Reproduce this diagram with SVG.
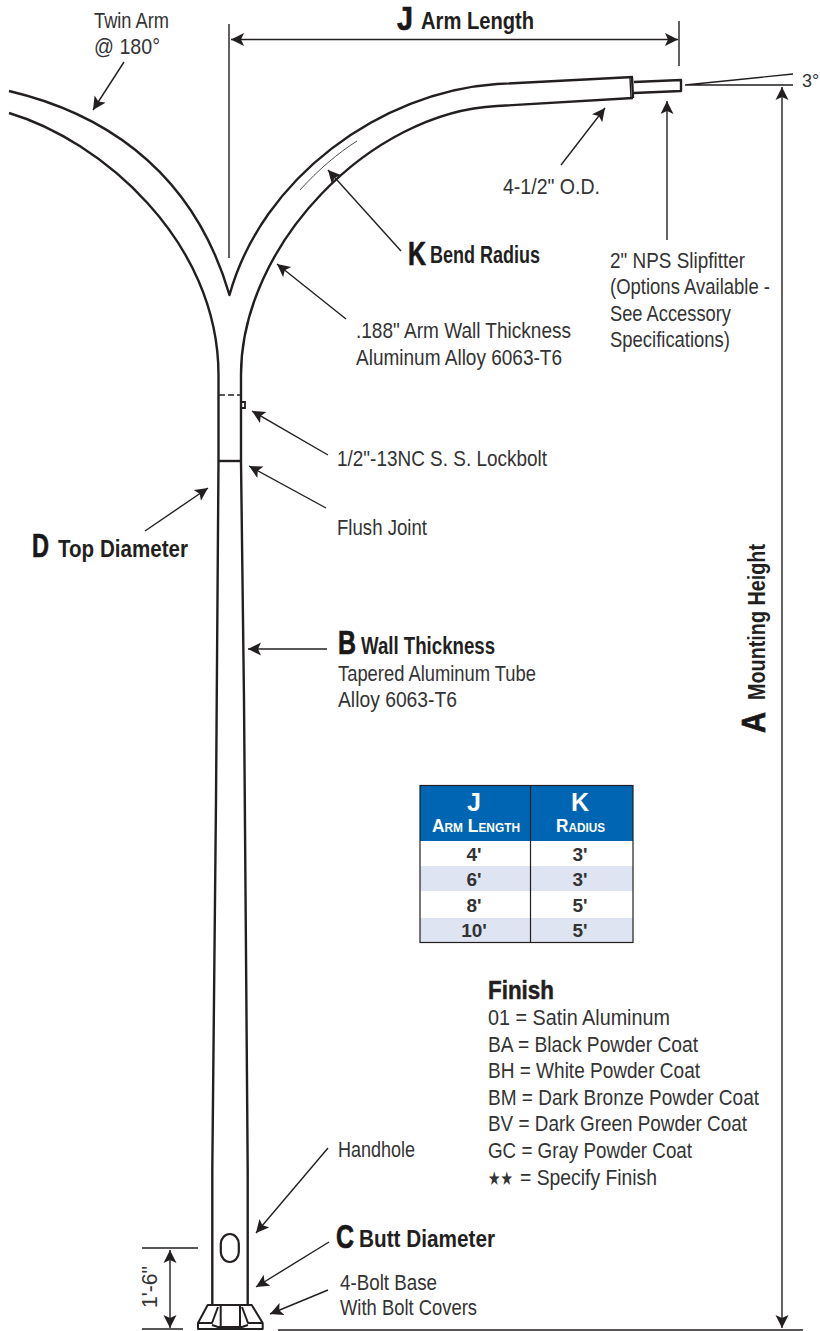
<svg xmlns="http://www.w3.org/2000/svg" width="820" height="1331" viewBox="0 0 820 1331">
<style>
text{font-family:"Liberation Sans",Arial,sans-serif;fill:#333;font-size:22.5px}
.b{font-weight:700;fill:#231f20;font-size:23px}
.big{font-weight:700;fill:#1a1718;font-size:33px;stroke:#1a1718;stroke-width:.7}
.th{font-weight:700;fill:#fff;text-anchor:middle}
.sc{font-variant:small-caps;font-size:19px}
.td{font-weight:700;fill:#333;font-size:19px;text-anchor:middle}
.o{fill:none;stroke:#231f20;stroke-width:2.4;stroke-linejoin:round}
.l{fill:none;stroke:#231f20;stroke-width:1.4}
.a{marker-end:url(#ah)}
.d{marker-start:url(#ahs);marker-end:url(#ah)}
</style>
<defs>
<marker id="ah" markerUnits="userSpaceOnUse" markerWidth="16" markerHeight="14" refX="13" refY="6.5" orient="auto"><path d="M0 0L13 6.5L0 13L3 6.5Z" fill="#231f20"/></marker>
<marker id="ahs" markerUnits="userSpaceOnUse" markerWidth="16" markerHeight="14" refX="0" refY="6.5" orient="auto"><path d="M13 0L0 6.5L13 13L10 6.5Z" fill="#231f20"/></marker>
</defs>
<rect width="820" height="1331" fill="#fff"/>
<g id="pole">
<path class="o" d="M9 91C90 110 190 160 229.5 295C262 178 380 92 497 84L633 77"/>
<path class="o" d="M9 113C100 140 218.5 240 218.5 375L218.5 461L216 800L212.3 1170L212.3 1305"/>
<path class="o" d="M633 98L497 106C370 112 241 245 241 375L241 461L244 700L247.7 1170L247.7 1305"/>
<path class="l" d="M630 78L631 98"/>
<path class="o" d="M633 98L632 77M634 82L681 80L681 91L634 93"/>
<path class="l" d="M219 395H241" stroke-dasharray="6 3"/>
<path class="l" d="M241 402H245V408H241" style="stroke-width:1.8"/>
<path class="o" d="M218.5 461H241"/>
<rect class="o" x="220.8" y="1234" width="18" height="28" rx="9" ry="10" style="stroke-width:2.2"/>
<path class="o" style="stroke-width:2" d="M207.7 1305H251.7L262.7 1323V1329H198V1323ZM198 1323H212L218 1307M262.7 1323H248L242 1307M220.7 1305V1326M240 1305V1326M212 1325L218 1327H242L248 1325"/>
<path d="M300 190C318 170 338 153 357 141" fill="none" stroke="#231f20" stroke-width="0.8"/>
</g>
<g id="connectors">
<path class="l" d="M229 24V258M679 21V66M685 85L793 74M685 85H793M278 1330H803M142 1248H198M142 1329H183"/>
<path class="l a" d="M124 62L93 110"/>
<path class="l d" d="M231 39.5H678"/>
<path class="l a" d="M667 240V101"/>
<path class="l a" d="M561 165L605 108"/>
<path class="l d" d="M782 87V1328"/>
<path class="l a" d="M401 251L328 170"/>
<path class="l a" d="M346 319L277 264"/>
<path class="l a" d="M328 455L252 411"/>
<path class="l a" d="M326 508L249 466"/>
<path class="l a" d="M145 531L208 488"/>
<path class="l a" d="M327 649H248"/>
<path class="l a" d="M328 1148L256 1233"/>
<path class="l a" d="M329 1242L256 1287"/>
<path class="l a" d="M328 1290L270 1314"/>
<path class="l d" d="M170 1250V1328"/>
</g>
<g id="labels">
<text x="94" y="28" textLength="75" lengthAdjust="spacingAndGlyphs">Twin Arm</text>
<text x="94" y="54" textLength="66" lengthAdjust="spacingAndGlyphs">@ 180°</text>
<text class="big" x="397" y="30" textLength="16" lengthAdjust="spacingAndGlyphs">J</text>
<text class="b" x="421" y="29" textLength="113" lengthAdjust="spacingAndGlyphs">Arm Length</text>
<text x="802" y="87" style="font-size:18px">3°</text>
<text x="503" y="194" textLength="97" lengthAdjust="spacingAndGlyphs">4-1/2" O.D.</text>
<text class="big" x="408" y="265" textLength="18" lengthAdjust="spacingAndGlyphs">K</text>
<text class="b" x="430" y="263" textLength="110" lengthAdjust="spacingAndGlyphs">Bend Radius</text>
<text x="610" y="268" textLength="135" lengthAdjust="spacingAndGlyphs">2" NPS Slipfitter</text>
<text x="610" y="294" textLength="160" lengthAdjust="spacingAndGlyphs">(Options Available -</text>
<text x="610" y="321" textLength="121" lengthAdjust="spacingAndGlyphs">See Accessory</text>
<text x="610" y="347" textLength="120" lengthAdjust="spacingAndGlyphs">Specifications)</text>
<text x="356" y="338" textLength="215" lengthAdjust="spacingAndGlyphs">.188" Arm Wall Thickness</text>
<text x="356" y="365" textLength="206" lengthAdjust="spacingAndGlyphs">Aluminum Alloy 6063-T6</text>
<text x="337" y="466" textLength="210" lengthAdjust="spacingAndGlyphs">1/2"-13NC S. S. Lockbolt</text>
<text x="337" y="535" textLength="90" lengthAdjust="spacingAndGlyphs">Flush Joint</text>
<text class="big" x="32" y="557" textLength="17" lengthAdjust="spacingAndGlyphs">D</text>
<text class="b" x="58" y="557" textLength="130" lengthAdjust="spacingAndGlyphs">Top Diameter</text>
<text class="big" x="338" y="654" textLength="18" lengthAdjust="spacingAndGlyphs">B</text>
<text class="b" x="361" y="654" textLength="134" lengthAdjust="spacingAndGlyphs">Wall Thickness</text>
<text x="338" y="681" textLength="198" lengthAdjust="spacingAndGlyphs">Tapered Aluminum Tube</text>
<text x="338" y="707" textLength="119" lengthAdjust="spacingAndGlyphs">Alloy 6063-T6</text>
<text x="338" y="1157" textLength="77" lengthAdjust="spacingAndGlyphs">Handhole</text>
<text class="big" x="336" y="1248" textLength="18" lengthAdjust="spacingAndGlyphs">C</text>
<text class="b" x="359" y="1247" textLength="136" lengthAdjust="spacingAndGlyphs">Butt Diameter</text>
<text x="340" y="1290" textLength="97" lengthAdjust="spacingAndGlyphs">4-Bolt Base</text>
<text x="340" y="1315" textLength="137" lengthAdjust="spacingAndGlyphs">With Bolt Covers</text>
<text class="big" transform="translate(765 733) rotate(-90)" textLength="21" lengthAdjust="spacingAndGlyphs">A</text>
<text class="b" transform="translate(765 700) rotate(-90)" textLength="156" lengthAdjust="spacingAndGlyphs">Mounting Height</text>
<text transform="translate(157 1308) rotate(-90)" textLength="42" lengthAdjust="spacingAndGlyphs">1'-6"</text>
</g>
<g id="spec-table">
<rect x="420" y="785" width="213" height="56" fill="#0066b3"/>
<rect x="420" y="841" width="213" height="25" fill="#fff"/>
<rect x="420" y="866" width="213" height="25" fill="#dfe4f2"/>
<rect x="420" y="891" width="213" height="27" fill="#fff"/>
<rect x="420" y="918" width="213" height="25" fill="#dfe4f2"/>
<rect x="420" y="785.5" width="213" height="157" fill="none" stroke="#231f20" stroke-width="1.2"/>
<path d="M530.5 785V943" stroke="#231f20" stroke-width="1.2"/>
<text class="th" x="474" y="811" style="font-size:25px">J</text>
<text class="th sc" x="476" y="832" textLength="88" lengthAdjust="spacingAndGlyphs">Arm Length</text>
<text class="th" x="580" y="811" style="font-size:25px">K</text>
<text class="th sc" x="580.5" y="832" textLength="49" lengthAdjust="spacingAndGlyphs">Radius</text>
<text class="td" x="474" y="861">4'</text><text class="td" x="580" y="861">3'</text>
<text class="td" x="474" y="886">6'</text><text class="td" x="580" y="886">3'</text>
<text class="td" x="474" y="912">8'</text><text class="td" x="580" y="912">5'</text>
<text class="td" x="474" y="937">10'</text><text class="td" x="580" y="937">5'</text>
</g>
<g id="finish">
<text class="b" x="488" y="999" style="font-size:26px;stroke:#231f20;stroke-width:.5" textLength="66" lengthAdjust="spacingAndGlyphs">Finish</text>
<text x="488" y="1025" textLength="182" lengthAdjust="spacingAndGlyphs">01 = Satin Aluminum</text>
<text x="488" y="1052" textLength="210" lengthAdjust="spacingAndGlyphs">BA = Black Powder Coat</text>
<text x="488" y="1078" textLength="212" lengthAdjust="spacingAndGlyphs">BH = White Powder Coat</text>
<text x="488" y="1105" textLength="271" lengthAdjust="spacingAndGlyphs">BM = Dark Bronze Powder Coat</text>
<text x="488" y="1131" textLength="259" lengthAdjust="spacingAndGlyphs">BV = Dark Green Powder Coat</text>
<text x="488" y="1158" textLength="204" lengthAdjust="spacingAndGlyphs">GC = Gray Powder Coat</text>
<text x="488" y="1185" style="font-family:'Liberation Sans','DejaVu Sans',sans-serif;font-size:19px" textLength="25" lengthAdjust="spacingAndGlyphs">★★</text>
<text x="520" y="1185" textLength="137" lengthAdjust="spacingAndGlyphs">= Specify Finish</text>
</g>
</svg>
